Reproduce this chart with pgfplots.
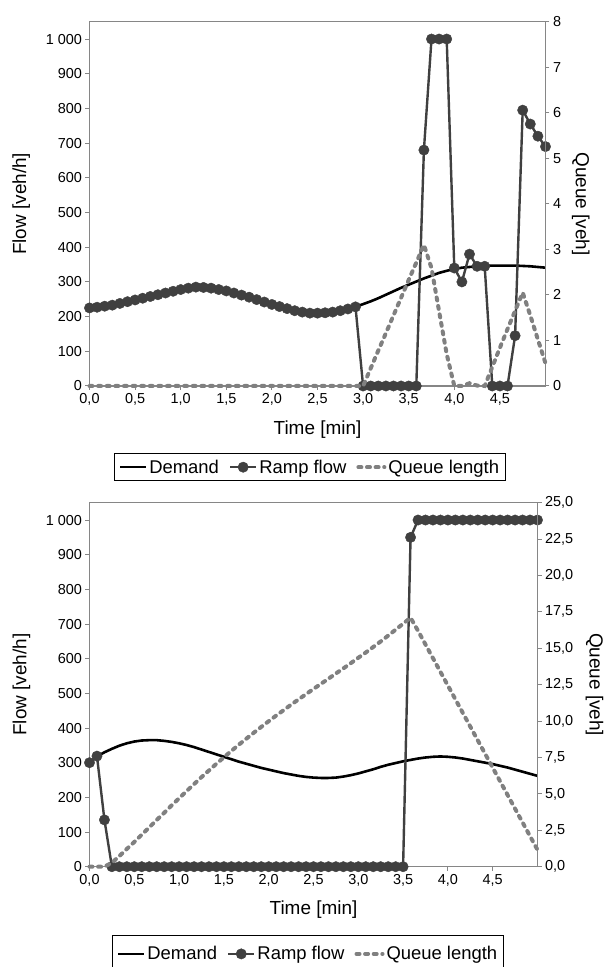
\documentclass[border=0pt]{standalone}
\usepackage{fontspec}
\setmainfont{Liberation Sans}
\usepackage{pgfplots}
\usepackage{pgfplotstable}
\pgfplotsset{compat=1.18}
\definecolor{rampc}{RGB}{64,64,64}
\definecolor{queuec}{RGB}{128,128,128}
\definecolor{axisc}{RGB}{134,134,134}

% t = time [min], d = demand [veh/h], r = ramp flow [veh/h], q = queue [veh]
\pgfplotstableread{
t d r q
0 225 225 0
0.0833 227 227 0
0.1667 230 230 0
0.25 233 233 0
0.3333 238 238 0
0.4167 243 243 0
0.5 248 248 0
0.5833 253 253 0
0.6667 258 258 0
0.75 263 263 0
0.8333 268 268 0
0.9167 273 273 0
1 278 278 0
1.0833 282 282 0
1.1667 285 285 0
1.25 284 284 0
1.3333 282 282 0
1.4167 278 278 0
1.5 274 274 0
1.5833 268 268 0
1.6667 262 262 0
1.75 256 256 0
1.8333 249 249 0
1.9167 242 242 0
2 235 235 0
2.0833 229 229 0
2.1667 223 223 0
2.25 217 217 0
2.3333 213 213 0
2.4167 210 210 0
2.5 210 210 0
2.5833 211 211 0
2.6667 213 213 0
2.75 217 217 0
2.8333 222 222 0
2.9167 228 228 0
3 236 0 0
3.0833 244 0 0.39
3.1667 253 0 0.78
3.25 263 0 1.16
3.3333 273 0 1.55
3.4167 283 0 1.94
3.5 292 0 2.33
3.5833 301 0 2.71
3.6667 310 680 3.10
3.75 318 1000 2.59
3.8333 326 1000 1.64
3.9167 332 1000 0.70
4 337 340 0
4.0833 341 300 0
4.1667 343 380 0.06
4.25 345 345 0.01
4.3333 346 345 0
4.4167 347 0 0.42
4.5 347 0 0.84
4.5833 347 0 1.25
4.6667 347 145 1.65
4.75 346 795 2.05
4.8333 345 755 1.55
4.9167 343 720 1.02
5 341 690 0.50
}\toptab

\pgfplotstableread{
t d r q
0 300 300 0
0.0833 318 319 0
0.1667 330 135 0
0.25 340 0 0.27
0.3333 349 0 0.73
0.4167 356 0 1.22
0.5 361 0 1.70
0.5833 364 0 2.20
0.6667 365 0 2.70
0.75 365 0 3.21
0.8333 363 0 3.70
0.9167 360 0 4.21
1 356 0 4.70
1.0833 351 0 5.19
1.1667 345 0 5.67
1.25 338 0 6.15
1.3333 331 0 6.61
1.4167 324 0 7.07
1.5 317 0 7.51
1.5833 310 0 7.95
1.6667 303 0 8.38
1.75 297 0 8.79
1.8333 291 0 9.20
1.9167 285 0 9.60
2 280 0 9.99
2.0833 275 0 10.38
2.1667 270 0 10.75
2.25 266 0 11.13
2.3333 262 0 11.49
2.4167 259 0 11.85
2.5 257 0 12.21
2.5833 256 0 12.56
2.6667 256 0 12.91
2.75 257 0 13.27
2.8333 260 0 13.62
2.9167 264 0 13.98
3 269 0 14.35
3.0833 275 0 14.71
3.1667 281 0 15.09
3.25 288 0 15.47
3.3333 294 0 15.87
3.4167 299 0 16.28
3.5 304 0 16.69
3.5833 308 950 17.10
3.6667 312 1000 16.20
3.75 315 1000 15.26
3.8333 317 1000 14.32
3.9167 318 1000 13.38
4 317 1000 12.44
4.0833 315 1000 11.50
4.1667 312 1000 10.56
4.25 308 1000 9.62
4.3333 304 1000 8.68
4.4167 300 1000 7.74
4.5 296 1000 6.80
4.5833 291 1000 5.86
4.6667 286 1000 4.92
4.75 280 1000 3.98
4.8333 274 1000 3.04
4.9167 268 1000 2.10
5 262 1000 1.16
}\bottab

\pgfplotsset{
  base/.style={
    scale only axis, clip=false,
    xmin=0, xmax=5,
    axis line style={axisc, line width=1.1bp},
    every tick/.style={axisc, line width=1bp},
    major tick length=4bp,
    tick align=outside,
    ticklabel style={font=\fontsize{14.5}{15}\selectfont},
    label style={font=\fontsize{19}{20}\selectfont},
    /pgf/number format/assume math mode=true,
  },
  leftax/.style={
    ymin=0, ymax=1050,
    ytick={0,100,200,300,400,500,600,700,800,900,1000},
    yticklabels={0,100,200,300,400,500,600,700,800,900,{1 000}},
    xtick={0,0.5,1,1.5,2,2.5,3,3.5,4,4.5},
    xticklabels={{0,0},{0,5},{1,0},{1,5},{2,0},{2,5},{3,0},{3,5},{4,0},{4,5}},
    xtick pos=bottom, ytick pos=left,
    xlabel={Time [min]}, ylabel={Flow [veh/h]},
  },
  demand/.style={black, line width=2.6bp, no marks},
  ramp/.style={rampc, line width=2.4bp, mark=*, mark size=5.2bp,
    mark options={fill=rampc, draw=rampc, line width=0.4bp, solid}},
  queue/.style={queuec, line width=4bp, dash pattern=on 3bp off 5.6bp, line cap=round, no marks},
  legbase/.style={
    legend columns=3,
    legend image code/.code={\draw[mark repeat=2,mark phase=2,##1] plot coordinates {(0bp,0bp) (13bp,0bp) (26bp,0bp)};},
    legend style={draw=black, line width=1bp, fill=white,
      font=\fontsize{18.5}{20}\selectfont,
      inner xsep=4bp, inner ysep=4bp,
      /tikz/every even column/.append style={column sep=8bp}},
  },
}

\begin{document}
\begin{tikzpicture}
\useasboundingbox (0bp,0bp) rectangle (605bp,967bp);

% ---------- top panel ----------
\begin{axis}[base, leftax,
  at={(89.5bp,581bp)}, anchor=south west, width=456bp, height=364.3bp,
  xlabel style={at={(axis description cs:0.5,-0.12)}, anchor=center},
  ylabel style={at={(axis description cs:-0.1496,0.5)}, anchor=center},
]
\addplot[demand] table[x=t,y=d]{\toptab};
\addplot[ramp] table[x=t,y=r]{\toptab};
\end{axis}
\begin{axis}[base, legbase,
  at={(89.5bp,581bp)}, anchor=south west, width=456bp, height=364.3bp,
  ymin=0, ymax=8, ytick={0,1,2,3,4,5,6,7,8},
  axis y line*=right, axis x line=none,
  ylabel={Queue [veh]},
  ylabel style={at={(axis description cs:1.0774,0.5)}, anchor=center, rotate=180},
  legend style={at={(axis description cs:0.4833,-0.1847)}, anchor=north},
]
\addlegendimage{demand}\addlegendentry{Demand}
\addlegendimage{ramp}\addlegendentry{Ramp flow}
\addplot[queue] table[x=t,y=q]{\toptab};
\addlegendentry{Queue length}
\end{axis}

% ---------- bottom panel ----------
\begin{axis}[base, leftax,
  at={(89.5bp,100.3bp)}, anchor=south west, width=448bp, height=364bp,
  xlabel style={at={(axis description cs:0.5,-0.119)}, anchor=center},
  ylabel style={at={(axis description cs:-0.152,0.5)}, anchor=center},
]
\addplot[demand] table[x=t,y=d]{\bottab};
\addplot[ramp] table[x=t,y=r]{\bottab};
\end{axis}
\begin{axis}[base, legbase,
  at={(89.5bp,100.3bp)}, anchor=south west, width=448bp, height=364bp,
  ymin=0, ymax=25, ytick={0,2.5,5,7.5,10,12.5,15,17.5,20,22.5,25},
  yticklabels={{0,0},{2,5},{5,0},{7,5},{10,0},{12,5},{15,0},{17,5},{20,0},{22,5},{25,0}},
  axis y line*=right, axis x line=none,
  ylabel={Queue [veh]},
  ylabel style={at={(axis description cs:1.1275,0.5)}, anchor=center, rotate=180},
  legend style={at={(axis description cs:0.4877,-0.1876)}, anchor=north, inner ysep=9bp},
]
\addlegendimage{demand}\addlegendentry{Demand}
\addlegendimage{ramp}\addlegendentry{Ramp flow}
\addplot[queue] table[x=t,y=q]{\bottab};
\addlegendentry{Queue length}
\end{axis}
\end{tikzpicture}
\end{document}
